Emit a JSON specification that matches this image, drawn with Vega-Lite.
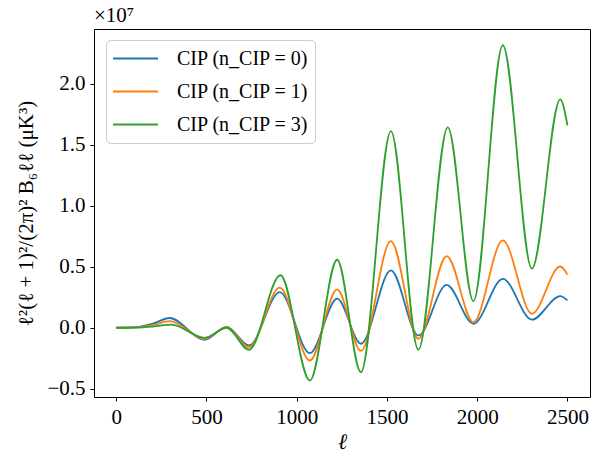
{
  "$schema": "https://vega.github.io/schema/vega-lite/v6.json",
  "width": 496,
  "height": 368,
  "autosize": {"type": "none"},
  "padding": {"left": 94, "top": 29, "right": 13, "bottom": 66},
  "title": {"text": "×10⁷", "anchor": "start", "frame": "group", "fontSize": 21, "font": "Liberation Serif", "fontWeight": "normal", "offset": 3, "color": "black"},
  "data": {"values": [
    {"l": 0, "v": 0, "s": "CIP (n_CIP = 0)"},
    {"l": 111, "v": 0.005, "s": "CIP (n_CIP = 0)"},
    {"l": 203, "v": 0.033, "s": "CIP (n_CIP = 0)"},
    {"l": 296, "v": 0.08, "s": "CIP (n_CIP = 0)"},
    {"l": 490, "v": -0.098, "s": "CIP (n_CIP = 0)"},
    {"l": 612, "v": 0.008, "s": "CIP (n_CIP = 0)"},
    {"l": 736, "v": -0.145, "s": "CIP (n_CIP = 0)"},
    {"l": 906, "v": 0.292, "s": "CIP (n_CIP = 0)"},
    {"l": 1073, "v": -0.208, "s": "CIP (n_CIP = 0)"},
    {"l": 1224, "v": 0.238, "s": "CIP (n_CIP = 0)"},
    {"l": 1356, "v": -0.131, "s": "CIP (n_CIP = 0)"},
    {"l": 1522, "v": 0.47, "s": "CIP (n_CIP = 0)"},
    {"l": 1674, "v": -0.063, "s": "CIP (n_CIP = 0)"},
    {"l": 1831, "v": 0.352, "s": "CIP (n_CIP = 0)"},
    {"l": 1979, "v": 0.033, "s": "CIP (n_CIP = 0)"},
    {"l": 2142, "v": 0.40, "s": "CIP (n_CIP = 0)"},
    {"l": 2303, "v": 0.066, "s": "CIP (n_CIP = 0)"},
    {"l": 2460, "v": 0.259, "s": "CIP (n_CIP = 0)"},
    {"l": 2500, "v": 0.224, "s": "CIP (n_CIP = 0)"},

    {"l": 0, "v": 0, "s": "CIP (n_CIP = 1)"},
    {"l": 111, "v": 0.003, "s": "CIP (n_CIP = 1)"},
    {"l": 203, "v": 0.022, "s": "CIP (n_CIP = 1)"},
    {"l": 296, "v": 0.054, "s": "CIP (n_CIP = 1)"},
    {"l": 490, "v": -0.09, "s": "CIP (n_CIP = 1)"},
    {"l": 612, "v": 0.007, "s": "CIP (n_CIP = 1)"},
    {"l": 736, "v": -0.16, "s": "CIP (n_CIP = 1)"},
    {"l": 906, "v": 0.328, "s": "CIP (n_CIP = 1)"},
    {"l": 1073, "v": -0.268, "s": "CIP (n_CIP = 1)"},
    {"l": 1224, "v": 0.314, "s": "CIP (n_CIP = 1)"},
    {"l": 1356, "v": -0.19, "s": "CIP (n_CIP = 1)"},
    {"l": 1522, "v": 0.71, "s": "CIP (n_CIP = 1)"},
    {"l": 1674, "v": -0.09, "s": "CIP (n_CIP = 1)"},
    {"l": 1831, "v": 0.587, "s": "CIP (n_CIP = 1)"},
    {"l": 1979, "v": 0.046, "s": "CIP (n_CIP = 1)"},
    {"l": 2142, "v": 0.716, "s": "CIP (n_CIP = 1)"},
    {"l": 2303, "v": 0.115, "s": "CIP (n_CIP = 1)"},
    {"l": 2460, "v": 0.502, "s": "CIP (n_CIP = 1)"},
    {"l": 2500, "v": 0.437, "s": "CIP (n_CIP = 1)"},

    {"l": 0, "v": 0, "s": "CIP (n_CIP = 3)"},
    {"l": 111, "v": 0.002, "s": "CIP (n_CIP = 3)"},
    {"l": 203, "v": 0.01, "s": "CIP (n_CIP = 3)"},
    {"l": 305, "v": 0.025, "s": "CIP (n_CIP = 3)"},
    {"l": 490, "v": -0.082, "s": "CIP (n_CIP = 3)"},
    {"l": 612, "v": 0.0, "s": "CIP (n_CIP = 3)"},
    {"l": 736, "v": -0.18, "s": "CIP (n_CIP = 3)"},
    {"l": 910, "v": 0.43, "s": "CIP (n_CIP = 3)"},
    {"l": 1073, "v": -0.432, "s": "CIP (n_CIP = 3)"},
    {"l": 1224, "v": 0.557, "s": "CIP (n_CIP = 3)"},
    {"l": 1356, "v": -0.364, "s": "CIP (n_CIP = 3)"},
    {"l": 1522, "v": 1.611, "s": "CIP (n_CIP = 3)"},
    {"l": 1674, "v": -0.18, "s": "CIP (n_CIP = 3)"},
    {"l": 1837, "v": 1.642, "s": "CIP (n_CIP = 3)"},
    {"l": 1979, "v": 0.218, "s": "CIP (n_CIP = 3)"},
    {"l": 2142, "v": 2.314, "s": "CIP (n_CIP = 3)"},
    {"l": 2303, "v": 0.484, "s": "CIP (n_CIP = 3)"},
    {"l": 2460, "v": 1.871, "s": "CIP (n_CIP = 3)"},
    {"l": 2500, "v": 1.658, "s": "CIP (n_CIP = 3)"}
  ]},
  "mark": {"type": "line", "interpolate": "monotone", "strokeWidth": 1.8},
  "encoding": {
    "x": {"field": "l", "type": "quantitative",
      "scale": {"domain": [-123, 2625], "nice": false, "zero": false},
      "axis": {"title": "ℓ", "values": [0, 500, 1000, 1500, 2000, 2500], "format": "d", "titleFontStyle": "italic", "titleFontSize": 22, "titlePadding": 4}},
    "y": {"field": "v", "type": "quantitative",
      "scale": {"domain": [-0.567, 2.447], "nice": false, "zero": false},
      "axis": {"title": "ℓ²(ℓ + 1)²/(2π)² B₆ℓℓ (μK³)", "values": [-0.5, 0, 0.5, 1, 1.5, 2], "format": ".1f", "titlePadding": 10, "titleFontSize": 21}},
    "color": {"field": "s", "type": "nominal",
      "scale": {"domain": ["CIP (n_CIP = 0)", "CIP (n_CIP = 1)", "CIP (n_CIP = 3)"], "range": ["#1f77b4", "#ff7f0e", "#2ca02c"]},
      "legend": {"title": null, "orient": "none", "legendX": 12, "legendY": 11,
        "symbolType": "stroke", "symbolSize": 2025, "symbolStrokeWidth": 2, "labelOffset": 18,
        "labelFontSize": 20, "labelFont": "Liberation Serif", "labelColor": "black", "clipHeight": 25,
        "padding": 6, "strokeColor": "#cccccc", "fillColor": "white", "cornerRadius": 4, "rowPadding": 8}}
  },
  "config": {
    "view": {"stroke": "black", "strokeWidth": 1},
    "axis": {"grid": false, "domain": false, "tickColor": "black", "tickSize": 4, "tickWidth": 1,
      "labelFont": "Liberation Serif", "labelFontSize": 21, "labelColor": "black", "labelPadding": 5,
      "titleFont": "Liberation Serif", "titleFontSize": 19, "titleFontWeight": "normal", "titleColor": "black"}
  }
}
